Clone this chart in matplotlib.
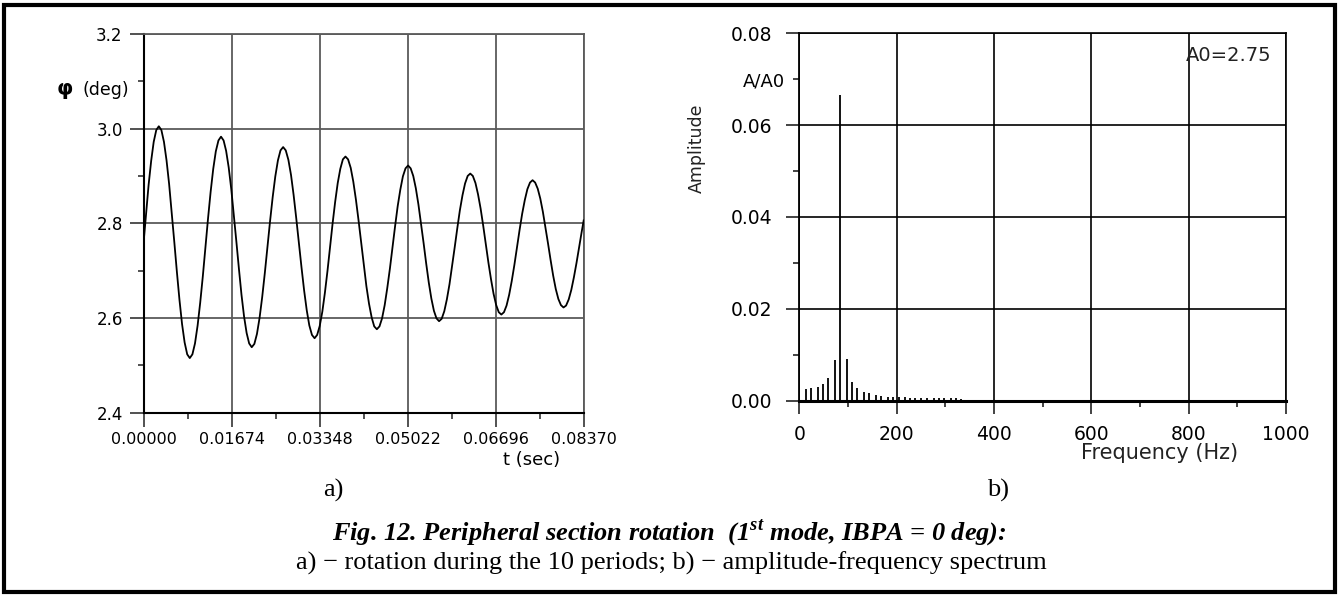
import matplotlib.pyplot as plt
from matplotlib.patches import Rectangle

W, H = 1339, 597

# a) rotation of the peripheral section
t_sec = [0.0, 0.00049, 0.00097, 0.00146, 0.00194, 0.00243, 0.00291,
         0.00340, 0.00389, 0.00438, 0.00487, 0.00536, 0.00586, 0.00635, 0.00684, 0.00733, 0.00782, 0.00831, 0.00880,
         0.00930, 0.00979, 0.01029, 0.01078, 0.01128, 0.01177, 0.01227, 0.01276, 0.01326, 0.01375, 0.01425, 0.01474,
         0.01523, 0.01571, 0.01620, 0.01669, 0.01717, 0.01766, 0.01815, 0.01863, 0.01912, 0.01961, 0.02009, 0.02058,
         0.02108, 0.02157, 0.02207, 0.02257, 0.02307, 0.02357, 0.02406, 0.02456, 0.02506, 0.02556, 0.02605, 0.02655,
         0.02705, 0.02755, 0.02805, 0.02854, 0.02904, 0.02954, 0.03004, 0.03054, 0.03104, 0.03153, 0.03203, 0.03253,
         0.03302, 0.03351, 0.03400, 0.03449, 0.03498, 0.03547, 0.03595, 0.03644, 0.03693, 0.03742, 0.03791, 0.03840,
         0.03890, 0.03940, 0.03989, 0.04039, 0.04089, 0.04139, 0.04188, 0.04238, 0.04288, 0.04338, 0.04387, 0.04437,
         0.04487, 0.04536, 0.04586, 0.04635, 0.04685, 0.04734, 0.04784, 0.04833, 0.04883, 0.04932, 0.04982, 0.05031,
         0.05080, 0.05129, 0.05178, 0.05227, 0.05276, 0.05326, 0.05375, 0.05424, 0.05473, 0.05522, 0.05571, 0.05620,
         0.05669, 0.05719, 0.05768, 0.05818, 0.05867, 0.05917, 0.05966, 0.06015, 0.06065, 0.06114, 0.06164, 0.06213,
         0.06262, 0.06312, 0.06361, 0.06410, 0.06459, 0.06509, 0.06558, 0.06607, 0.06656, 0.06706, 0.06755, 0.06804,
         0.06854, 0.06903, 0.06953, 0.07002, 0.07052, 0.07101, 0.07151, 0.07200, 0.07250, 0.07299, 0.07349, 0.07398,
         0.07447, 0.07496, 0.07545, 0.07594, 0.07643, 0.07692, 0.07741, 0.07790, 0.07839, 0.07888, 0.07937, 0.07986,
         0.08035, 0.08085, 0.08134, 0.08184, 0.08233, 0.08282, 0.08332, 0.08370]
phi_deg = [2.757, 2.821, 2.881, 2.932, 2.972, 2.997, 3.005,
           2.997, 2.972, 2.933, 2.883, 2.823, 2.760, 2.697, 2.638, 2.587, 2.548, 2.523, 2.515,
           2.523, 2.546, 2.584, 2.632, 2.688, 2.749, 2.810, 2.866, 2.915, 2.952, 2.975, 2.983,
           2.975, 2.953, 2.918, 2.872, 2.818, 2.761, 2.703, 2.649, 2.603, 2.568, 2.546, 2.538,
           2.545, 2.566, 2.600, 2.644, 2.695, 2.750, 2.804, 2.855, 2.899, 2.933, 2.954, 2.961,
           2.954, 2.934, 2.902, 2.860, 2.811, 2.759, 2.707, 2.658, 2.616, 2.584, 2.564, 2.557,
           2.564, 2.583, 2.613, 2.653, 2.699, 2.749, 2.799, 2.845, 2.885, 2.915, 2.935, 2.941,
           2.935, 2.917, 2.888, 2.850, 2.806, 2.759, 2.711, 2.667, 2.630, 2.601, 2.582, 2.576,
           2.582, 2.599, 2.627, 2.663, 2.704, 2.749, 2.794, 2.836, 2.871, 2.899, 2.916, 2.922,
           2.916, 2.900, 2.874, 2.840, 2.800, 2.758, 2.715, 2.675, 2.641, 2.615, 2.599, 2.593,
           2.598, 2.614, 2.639, 2.671, 2.709, 2.749, 2.789, 2.827, 2.859, 2.884, 2.900, 2.905,
           2.900, 2.885, 2.861, 2.831, 2.795, 2.756, 2.717, 2.682, 2.651, 2.627, 2.612, 2.607,
           2.612, 2.626, 2.649, 2.678, 2.712, 2.749, 2.786, 2.820, 2.849, 2.872, 2.886, 2.891,
           2.886, 2.873, 2.852, 2.824, 2.791, 2.757, 2.722, 2.689, 2.661, 2.640, 2.627, 2.622,
           2.626, 2.639, 2.659, 2.686, 2.716, 2.749, 2.782, 2.806]
t_ticks = [0.0, 0.01674, 0.03348, 0.05022, 0.06696, 0.08370]
t_ticklabels = ['0.00000', '0.01674', '0.03348', '0.05022', '0.06696', '0.08370']
t_minor = [0.00837, 0.02511, 0.04185, 0.05859, 0.07533]
phi_ticks = [2.4, 2.6, 2.8, 3.0, 3.2]
phi_minor = [2.5, 2.7, 2.9, 3.1]

# b) amplitude-frequency spectrum
freq_hz = [14, 25, 38, 49, 60, 73, 84, 98, 109, 119, 133, 144, 157, 168,
           182, 192, 204, 217, 228, 238, 250, 262, 276, 287, 297, 311, 322, 333]
amp_ratio = [0.0025, 0.0027, 0.0030, 0.0036, 0.0049, 0.0089, 0.0665, 0.0091,
             0.0041, 0.0027, 0.0019, 0.0016, 0.0012, 0.0010, 0.0009, 0.0007,
             0.0007, 0.0007, 0.0005, 0.0005, 0.0005, 0.0005, 0.0005, 0.0005,
             0.0005, 0.0005, 0.0005, 0.0004]
freq_ticks = [0, 200, 400, 600, 800, 1000]
freq_minor = [100, 300, 500, 700, 900]
amp_ticks = [0.00, 0.02, 0.04, 0.06, 0.08]
amp_minor = [0.01, 0.03, 0.05, 0.07]


def fx(x):
    return x / W


def fy(y):
    return 1 - y / H


fig = plt.figure(figsize=(W / 100, H / 100), dpi=100)
plt.rcParams['font.family'] = 'DejaVu Sans'

# ---- left panel ----
ax1 = fig.add_axes([fx(143.5), fy(412.5), fx(583.7) - fx(143.5), fy(34) - fy(412.5)])
ax1.plot(t_sec, phi_deg, color='black', lw=1.3, zorder=3)
ax1.set_xlim(0, 0.0837)
ax1.set_ylim(2.4, 3.2)
ax1.set_xticks(t_ticks)
ax1.set_xticklabels(t_ticklabels)
ax1.set_xticks(t_minor, minor=True)
ax1.set_yticks(phi_ticks)
ax1.set_yticklabels(['%.1f' % v for v in phi_ticks])
ax1.set_yticks(phi_minor, minor=True)
ax1.grid(True, which='major', color='#5a5a5a', lw=1.3)
ax1.tick_params(which='major', length=10, width=1.2, labelsize=11.5, color='#333333')
ax1.tick_params(axis='y', which='major', pad=5, labelsize=12)
ax1.tick_params(axis='x', which='major', pad=4)
ax1.tick_params(which='minor', length=4.5, width=1.2, color='#333333')
for s in ['top', 'right']:
    ax1.spines[s].set_color('#5a5a5a')
    ax1.spines[s].set_linewidth(1.3)
for s in ['left', 'bottom']:
    ax1.spines[s].set_color('black')
    ax1.spines[s].set_linewidth(1.5)

fig.text(fx(65), fy(89), 'φ', fontsize=15, fontweight='bold', ha='center', va='center')
fig.text(fx(106), fy(90), '(deg)', fontsize=12.5, ha='center', va='center')
fig.text(fx(532), fy(460), 't (sec)', fontsize=13, ha='center', va='center')

# ---- right panel ----
ax2 = fig.add_axes([fx(799.3), fy(400.7), fx(1285.8) - fx(799.3), fy(33.3) - fy(400.7)])
ax2.vlines(freq_hz, 0, amp_ratio, color='black', lw=1.3, zorder=3)
ax2.set_xlim(0, 1000)
ax2.set_ylim(0, 0.08)
ax2.set_xticks(freq_ticks)
ax2.set_xticklabels([str(v) for v in freq_ticks])
ax2.set_xticks(freq_minor, minor=True)
ax2.set_yticks(amp_ticks)
ax2.set_yticklabels(['%.2f' % v for v in amp_ticks])
ax2.set_yticks(amp_minor, minor=True)
ax2.set_yticklabels(['', '', '', 'A/A0'], minor=True)
ax2.grid(True, which='major', color='black', lw=1.2)
ax2.tick_params(which='major', length=9.5, width=1.2, labelsize=13.5, color='#222222')
ax2.tick_params(axis='y', which='major', pad=10)
ax2.tick_params(axis='x', which='major', pad=8)
ax2.tick_params(which='minor', length=4.5, width=1.2, labelsize=13, color='#222222')
ax2.tick_params(axis='y', which='minor', pad=6)
for s in ['top', 'right']:
    ax2.spines[s].set_linewidth(1.2)
ax2.spines['left'].set_linewidth(1.3)
ax2.spines['bottom'].set_linewidth(2.2)
ax2.text(0.97, 0.94, 'A0=2.75', transform=ax2.transAxes, fontsize=14,
         ha='right', va='center', color='#222222')

fig.text(fx(697), fy(148), 'Amplitude', fontsize=12.5, rotation=90,
         ha='center', va='center', color='#222222')
fig.text(fx(1160), fy(453), 'Frequency (Hz)', fontsize=15, ha='center',
         va='center', color='#222222')

# ---- panel letters and caption ----
serif = 'Liberation Serif'
fig.text(fx(333), fy(490), 'a)', fontsize=19, family=serif, ha='center', va='center')
fig.text(fx(998), fy(490), 'b)', fontsize=19, family=serif, ha='center', va='center')

plt.rcParams['mathtext.fontset'] = 'custom'
plt.rcParams['mathtext.rm'] = 'Liberation Serif:bold:italic'
fig.text(fx(669), fy(533),
         r'Fig. 12. Peripheral section rotation  (1$^{\mathrm{st}}$ mode, IBPA = 0 deg):',
         fontsize=19, family=serif, fontweight='bold', fontstyle='italic',
         ha='center', va='center')
fig.text(fx(671), fy(563),
         'a) \u2212 rotation during the 10 periods; b) \u2212 amplitude-frequency spectrum',
         fontsize=19, family=serif, ha='center', va='center')

# outer frame
fig.add_artist(Rectangle((fx(4), fy(592)), fx(1331), 587 / H, transform=fig.transFigure,
                         fill=False, lw=3, color='black'))

fig.savefig('out.png', dpi=100)
